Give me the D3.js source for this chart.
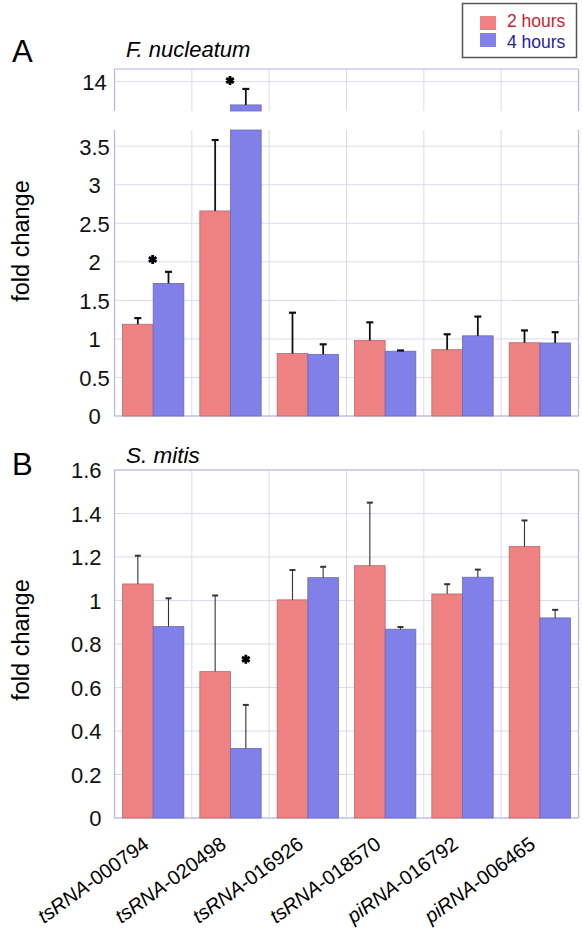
<!DOCTYPE html>
<html><head><meta charset="utf-8">
<script src="https://cdn.jsdelivr.net/npm/d3@7"></script>
<style>body{margin:0;background:#fff}svg{display:block}text{font-family:"Liberation Sans",Arial,sans-serif}</style>
</head><body><svg id="c" width="583" height="935"></svg>
<script>
// ---- data ----
const prefixes = ["tsRNA","tsRNA","tsRNA","tsRNA","piRNA","piRNA"];
const ids = ["-000794","-020498","-016926","-018570","-016792","-006465"];
const series = ["2 hours","4 hours"];
// Panel A: F. nucleatum
const fn2h = [1.19, 2.66, 0.81, 0.98, 0.86, 0.95];
const fn2hErr = [0.08, 0.92, 0.53, 0.235, 0.20, 0.16];
const fn4h = [1.72, 12.89, 0.80, 0.84, 1.04, 0.947];
const fn4hErr = [0.15, 0.76, 0.13, 0.01, 0.25, 0.14];
const fnStars = [{cat:0, value:2.03, at:"center"}, {cat:1, value:14.05, at:"center"}];
// Panel B: S. mitis
const sm2h = [1.076, 0.673, 1.003, 1.16, 1.03, 1.248];
const sm2hErr = [0.13, 0.35, 0.137, 0.29, 0.045, 0.12];
const sm4h = [0.88, 0.32, 1.105, 0.868, 1.107, 0.92];
const sm4hErr = [0.13, 0.20, 0.05, 0.01, 0.035, 0.037];
const smStars = [{cat:1, value:0.73, at:"4 hours"}];
// ticks
const aLowTicks = [0,0.5,1,1.5,2,2.5,3,3.5];
const aLowLabels = ["0","0.5","1","1.5","2","2.5","3","3.5"];
const aHighTicks = [14];
const aHighLabels = ["14"];
const bTicks = [0,0.2,0.4,0.6,0.8,1,1.2,1.4,1.6];
const bLabels = ["0","0.2","0.4","0.6","0.8","1","1.2","1.4","1.6"];

const colors = {"2 hours":"#ee8282","4 hours":"#8080e8"};
const strokes = {"2 hours":"#b86a6a","4 hours":"#6a6ab8"};
const gridC = "#dadaf2", borderC = "#b4b4e4";

const svg = d3.select("#c");
const L = 114.5, R = 578.5;
const cats = ids.map((d,i)=>i);
const x = d3.scaleBand().domain(cats).range([L,R]).padding(0);
const xs = d3.scaleBand().domain(series).range([8, x.bandwidth()-8]).padding(0);

function drawSegment(g, y, ticks, labels, opts){
  const [y0,y1] = y.range(); // bottom, top
  g.append("g").selectAll("line").data(ticks).join("line")
    .attr("x1",L).attr("x2",R).attr("y1",d=>y(d)).attr("y2",d=>y(d))
    .attr("stroke",gridC).attr("stroke-width",1);
  const bounds = cats.slice(1).map(c=>x(c));
  g.append("g").selectAll("line").data(bounds).join("line")
    .attr("x1",d=>d).attr("x2",d=>d).attr("y1",y1).attr("y2",y0)
    .attr("stroke",gridC).attr("stroke-width",1);
  g.append("line").attr("x1",L).attr("x2",L).attr("y1",y1).attr("y2",y0).attr("stroke",borderC).attr("stroke-width",1.2);
  g.append("line").attr("x1",R).attr("x2",R).attr("y1",y1).attr("y2",y0).attr("stroke",borderC).attr("stroke-width",1.2);
  if(opts.top) g.append("line").attr("x1",L).attr("x2",R).attr("y1",y1).attr("y2",y1).attr("stroke",borderC).attr("stroke-width",1.2);
  if(opts.bottom) g.append("line").attr("x1",L).attr("x2",R).attr("y1",y0).attr("y2",y0).attr("stroke",borderC).attr("stroke-width",1.2);
  const ax = d3.axisLeft(y).tickValues(ticks).tickFormat((d,i)=>labels[i]).tickSize(0).tickPadding(opts.pad);
  const a = g.append("g").attr("transform",`translate(${L},0)`).call(ax);
  a.select(".domain").remove();
  a.selectAll("text").attr("font-size",opts.fs).attr("fill","#111")
    .attr("text-anchor",opts.anchor).attr("dy","0.36em")
    .style("font-family","'Liberation Sans',Arial,sans-serif");
}

function drawBars(g, y, v2, e2, v4, e4, errStyle){
  const dom = y.domain();
  const rows = [];
  cats.forEach(i=>{
    rows.push({cat:i, s:"2 hours", v:v2[i], e:e2[i]});
    rows.push({cat:i, s:"4 hours", v:v4[i], e:e4[i]});
  });
  const vis = rows.filter(r=>r.v > dom[0]);
  const cl = v=>Math.max(dom[0], Math.min(dom[1], v));
  g.append("g").selectAll("rect").data(vis).join("rect")
    .attr("x",d=>x(d.cat)+xs(d.s)).attr("width",xs.bandwidth())
    .attr("y",d=>y(cl(d.v))).attr("height",d=>y(dom[0]) - y(cl(d.v)))
    .attr("fill",d=>colors[d.s]).attr("stroke",d=>strokes[d.s]).attr("stroke-width",0.8);
  const errs = vis.filter(d=>d.v + d.e <= dom[1] && d.v < dom[1]);
  const cx = d=>x(d.cat)+xs(d.s)+xs.bandwidth()/2;
  const eg = g.append("g").attr("stroke",errStyle.color).attr("stroke-width",errStyle.width);
  eg.selectAll("line.v").data(errs).join("line").attr("class","v")
    .attr("x1",cx).attr("x2",cx).attr("y1",d=>y(d.v)).attr("y2",d=>y(d.v+d.e));
  eg.selectAll("line.c").data(errs).join("line").attr("class","c")
    .attr("x1",d=>cx(d)-errStyle.cap).attr("x2",d=>cx(d)+errStyle.cap)
    .attr("y1",d=>y(d.v+d.e)).attr("y2",d=>y(d.v+d.e)).attr("stroke-width",errStyle.capW);
}

function drawStars(g, y, stars){
  const sym = d3.symbol(d3.symbolAsterisk).size(55);
  g.selectAll("path.star").data(stars).join("path").attr("class","star")
    .attr("d",sym)
    .attr("transform",d=>{
      const px = d.at==="center" ? x(d.cat)+x.bandwidth()/2 - 0.5 : x(d.cat)+xs(d.at)+xs.bandwidth()/2;
      return `translate(${px},${y(d.value)})`;
    })
    .attr("fill","none").attr("stroke","#000").attr("stroke-width",2.8);
}

// ---- Panel A ----
const gA = svg.append("g");
const yAhigh = d3.scaleLinear().domain([12.6,14.6]).range([111,69]);
const yAlow = d3.scaleLinear().domain([0,3.71]).range([416,130]);
const errA = {color:"#111", width:1.8, cap:3.5, capW:2.2};
const axA = {pad:20, fs:22, anchor:"middle"};
drawSegment(gA, yAhigh, aHighTicks, aHighLabels, Object.assign({top:true, bottom:false}, axA));
drawSegment(gA, yAlow, aLowTicks, aLowLabels, Object.assign({top:false, bottom:true}, axA));
drawBars(gA, yAhigh, fn2h, fn2hErr, fn4h, fn4hErr, errA);
drawBars(gA, yAlow, fn2h, fn2hErr, fn4h, fn4hErr, errA);
drawStars(gA, yAlow, fnStars.filter(s=>s.value<=yAlow.domain()[1]));
drawStars(gA.append("g"), yAhigh, fnStars.filter(s=>s.value>yAlow.domain()[1]));

// ---- Panel B ----
const gB = svg.append("g");
const yB = d3.scaleLinear().domain([0,1.6]).range([818,470]);
const errB = {color:"#333", width:1.1, cap:3, capW:2};
drawSegment(gB, yB, bTicks, bLabels, {top:true, bottom:true, pad:13, fs:22, anchor:"end"});
drawBars(gB, yB, sm2h, sm2hErr, sm4h, sm4hErr, errB);
drawStars(gB, yB, smStars);

// ---- labels ----
svg.append("text").attr("x",12).attr("y",62).attr("font-size",31).text("A");
svg.append("text").attr("x",12).attr("y",475).attr("font-size",31).text("B");
svg.append("text").attr("x",126).attr("y",57).attr("font-size",22).attr("font-style","italic").text("F. nucleatum");
svg.append("text").attr("x",126).attr("y",463).attr("font-size",22.5).attr("font-style","italic").text("S. mitis");
svg.append("text").attr("transform","translate(29,241) rotate(-90)").attr("text-anchor","middle").attr("font-size",23.5).text("fold change");
svg.append("text").attr("transform","translate(29,640) rotate(-90)").attr("text-anchor","middle").attr("font-size",23.5).text("fold change");

// x labels
const xl = svg.append("g").selectAll("text").data(cats).join("text")
  .attr("text-anchor","end").attr("font-size",20)
  .attr("transform",d=>`translate(${x(d)+x.bandwidth()/2-3},${847}) rotate(-36)`);
xl.append("tspan").attr("font-style","italic").text(d=>prefixes[d]);
xl.append("tspan").text(d=>ids[d]);

// legend
const lg = svg.append("g");
lg.append("rect").attr("x",462.5).attr("y",3.5).attr("width",114).attr("height",54)
  .attr("fill","#fff").attr("stroke","#555").attr("stroke-width",1.5);
const legC = {"2 hours":"#cc2233","4 hours":"#2222aa"};
series.forEach((s,i)=>{
  lg.append("rect").attr("x",480).attr("y",16+i*17).attr("width",16).attr("height",14).attr("fill",colors[s]);
  lg.append("text").attr("x",507).attr("y",27+i*20.5).attr("font-size",17.5).attr("fill",legC[s]).text(s);
});
</script></body></html>
